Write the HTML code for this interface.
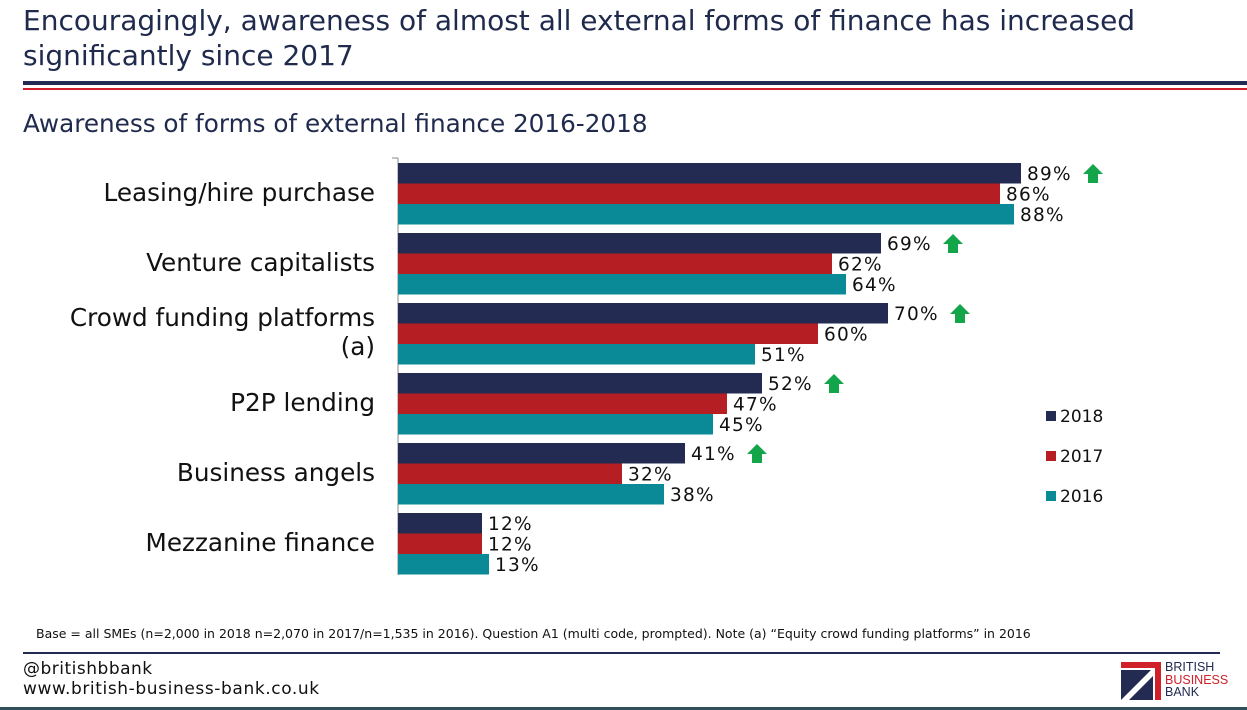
<!DOCTYPE html>
<html><head><meta charset="utf-8"><style>
body{margin:0;width:1247px;height:710px;background:#fff;font-family:"DejaVu Sans","Liberation Sans",sans-serif;overflow:hidden;position:relative}
.abs{position:absolute}
</style></head><body>
<div class="abs" style="left:23px;top:3px;font-size:28px;line-height:35px;color:#1f2a4d">Encouragingly, awareness of almost all external forms of finance has increased<br>significantly since 2017</div>
<div class="abs" style="left:23px;top:81px;width:1224px;height:4px;background:#232b52"></div>
<div class="abs" style="left:23px;top:88px;width:1224px;height:2px;background:#d0202a"></div>
<div class="abs" style="left:23px;top:109px;font-size:24.7px;color:#1f2a4d">Awareness of forms of external finance 2016-2018</div>
<svg class="abs" style="left:0;top:0" width="1247" height="710" id="chart"></svg>
<div class="abs" style="left:36px;top:626px;font-size:12.5px;color:#111">Base = all SMEs (n=2,000 in 2018 n=2,070 in 2017/n=1,535 in 2016). Question A1 (multi code, prompted). Note (a) “Equity crowd funding platforms” in 2016</div>
<div class="abs" style="left:23px;top:652px;width:1197px;height:2px;background:#232b52"></div>
<div class="abs" style="left:23px;top:659px;font-size:17px;letter-spacing:0.5px;color:#111">@britishbbank</div>
<div class="abs" style="left:23px;top:679px;font-size:17px;letter-spacing:0.6px;color:#111">www.british-business-bank.co.uk</div>
<svg class="abs" style="left:1121px;top:662px" width="40" height="38">
<polygon points="0,0 40,0 40,38 34,38 34,6 0,6" fill="#d0202a"/><polygon points="0,8 30,8 0,38" fill="#232b52"/><polygon points="8,38 32,14 32,38" fill="#232b52"/></svg>
<div class="abs" style="left:1165px;top:661px;font-family:'Liberation Sans',sans-serif;font-size:12.5px;line-height:12.5px"><span style="color:#232b52">BRITISH</span><br><span style="color:#d0202a">BUSINESS</span><br><span style="color:#232b52">BANK</span></div>
<div class="abs" style="left:0;top:707px;width:1247px;height:3px;background:#2f4f5a"></div>
<script>
const categories=["Leasing/hire purchase","Venture capitalists","Crowd funding platforms|(a)","P2P lending","Business angels","Mezzanine finance"];
const v2018=[89,69,70,52,41,12];
const v2017=[86,62,60,47,32,12];
const v2016=[88,64,51,45,38,13];
const increased=[true,true,true,true,true,false];
const seriesNames=["2018","2017","2016"];
const colors=["#232b52","#b51f24","#0a8a96"];
const NS="http://www.w3.org/2000/svg";
const svg=document.getElementById('chart');
const x0=398,pxPer=7.0,top0=163,pitch=70,bh=20.5;
const xs=v=>x0+v*pxPer;
function mk(t,a,p){const e=document.createElementNS(NS,t);for(const k in a)e.setAttribute(k,a[k]);(p||svg).appendChild(e);return e;}
const ax=mk('line',{x1:x0,y1:158,x2:x0,y2:575,stroke:'#888','stroke-width':1});


const tk=mk('line',{x1:392,y1:158,x2:x0,y2:158,stroke:'#888','stroke-width':1});


const series=[v2018,v2017,v2016];
categories.forEach((c,i)=>{
  const gy=top0+i*pitch;
  const lines=c.split('|');
  const t=mk('text',{x:375,'text-anchor':'end','font-size':24.7,fill:'#111'});
  
  
  if(lines.length===1){t.setAttribute('y',gy+38);t.textContent=c;}
  else{lines.forEach((l,j)=>{const ts=mk('tspan',{x:375,y:gy+23+j*29},t);ts.textContent=l;});}
  series.forEach((s,k)=>{
    const y=gy+k*bh;
    const r=mk('rect',{x:x0,y:y,width:xs(s[i])-x0,height:bh,fill:colors[k]});
    
    
    const lb=mk('text',{x:xs(s[i])+6,y:y+17,'font-size':18.5,fill:'#111','letter-spacing':1.2});
    
    
    lb.textContent=s[i]+'%';
    if(k===0&&increased[i]){
      const ax2=xs(s[i])+72,ay=y;
      const ar=mk('polygon',{points:`${ax2},${ay+1} ${ax2+10},${ay+11} ${ax2+5},${ay+11} ${ax2+5},${ay+20} ${ax2-5},${ay+20} ${ax2-5},${ay+11} ${ax2-10},${ay+11}`,fill:'#12a54a'});
      
      
    }
  });
});
seriesNames.forEach((n,k)=>{
  const y=416+k*40;
  const g=mk('g',{});
  
  
  mk('rect',{x:1046,y:y-5,width:10,height:10,fill:colors[k]},g);
  const t=mk('text',{x:1060,y:y+6,'font-size':17,fill:'#111'},g);t.textContent=n;
});
</script>
</body></html>
